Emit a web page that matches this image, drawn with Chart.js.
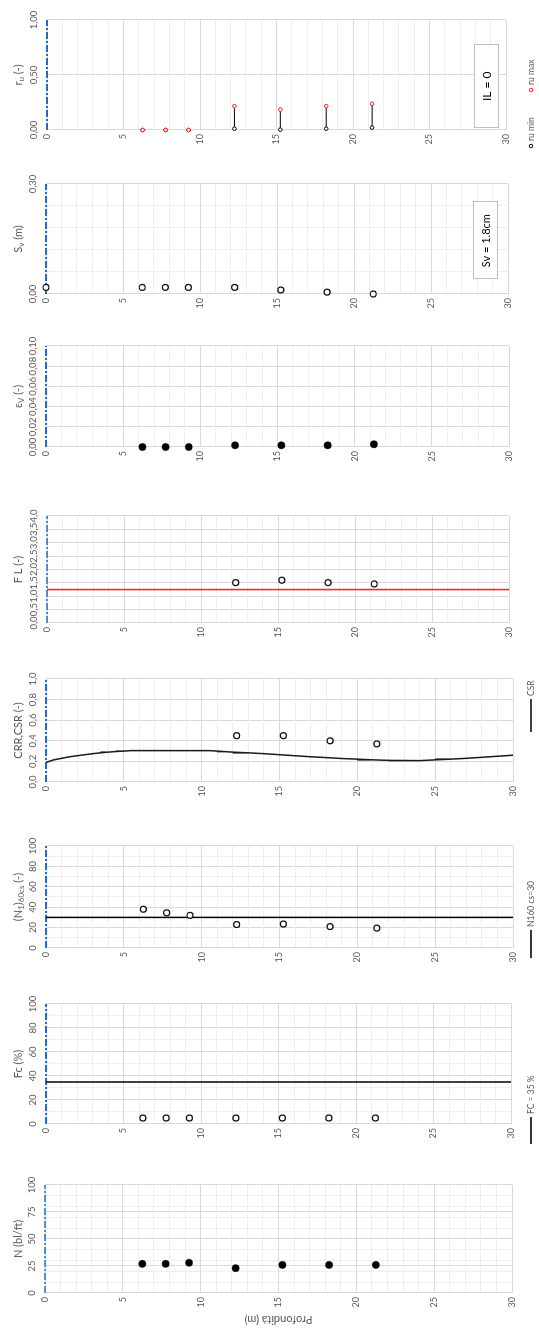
<!DOCTYPE html>
<html><head><meta charset="utf-8">
<script src="https://cdn.jsdelivr.net/npm/chart.js@4"></script>
<style>
html,body{margin:0;padding:0;background:#fff;overflow:hidden;width:539px;height:1328px}
#rot{position:absolute;left:0;top:0;width:1328px;height:539px;transform-origin:0 0;transform:translate(0,1328px) rotate(-90deg);background:#fff}
.p{position:absolute;top:0;height:539px}
.p canvas{display:block}
</style></head><body><div id="rot"></div>
<script>
// ---------------- DATA ----------------
const depths = [6.25, 7.75, 9.25, 12.25, 15.25, 18.25, 21.25];
const ruMin = [0, 0, 0, 0.012, 0.003, 0.012, 0.022];
const ruMax = [0, 0, 0, 0.217, 0.186, 0.217, 0.238];
const svDepths = [0, 6.25, 7.75, 9.25, 12.25, 15.25, 18.25, 21.25];
const svValues = [0.018, 0.018, 0.018, 0.018, 0.018, 0.011, 0.005, 0.0];
const evValues = [0, 0, 0, 0.0017, 0.0017, 0.0017, 0.0027];
const flDepths = [12.25, 15.25, 18.25, 21.25];
const flValues = [1.51, 1.60, 1.51, 1.46];
const flLimit = 1.25;
const crrDepths = [12.25, 15.25, 18.25, 21.25];
const crrValues = [0.45, 0.45, 0.40, 0.37];
const csrDepths = [0,0.5,1,1.5,2,2.5,3,3.5,4,4.5,5,5.5,6,7,8,9,10,10.5,11,11.5,12,13,14,15,16,17,18,19,20,21,22,23,24,25,26,27,28,29,30];
const csrValues = [0.19,0.215,0.23,0.245,0.255,0.265,0.275,0.283,0.29,0.296,0.30,0.305,0.305,0.305,0.305,0.305,0.305,0.303,0.30,0.295,0.29,0.283,0.275,0.265,0.255,0.245,0.237,0.228,0.222,0.215,0.21,0.205,0.21,0.215,0.222,0.23,0.24,0.25,0.26];
const n160Values = [38, 34.5, 32, 23, 23.5, 21, 19.5];
const n160Limit = 30;
const fcValues = [5, 5, 5, 5, 5, 5, 5];
const fcLimit = 35;
const nValues = [27, 27, 28, 23, 26, 26, 26];
const depthRange = [0, 30];
const depthLabels = [0, 5, 10, 15, 20, 25, 30];
const IL_TEXT = 'IL = 0';
const SV_TEXT = 'Sv = 1.8cm';

// ---------------- LAYOUT ----------------
const W = 1328, H = 539;
const FONT = 'Lato, "Open Sans", "Liberation Sans", sans-serif';
const GREY = '#595959';
const BLUE = '#1a6fc9';
const rot = document.getElementById('rot');

const fmt = d => v => v.toFixed(d).replace('.', ',');
const range = (a, b, s) => { const r = []; for (let i = 0; a + i * s <= b + 1e-9; i++) r.push(+(a + i * s).toFixed(6)); return r; };
const has = (arr, v) => arr.some(a => Math.abs(a - v) < 1e-9);
const pts = (xs, ys) => xs.map((d, i) => ({x: ys[i], y: d}));
const hline = v => depthRange.map(d => ({x: v, y: d}));

function drawRich(ctx, parts, cx, cy, size, color) {
  ctx.save(); ctx.fillStyle = color; ctx.textBaseline = 'middle';
  const big = size + 'px ' + FONT, small = Math.round(size * 0.72) + 'px ' + FONT;
  let total = 0;
  parts.forEach(p => { ctx.font = p[1] ? small : big; total += ctx.measureText(p[0]).width; });
  let x = cx - total / 2;
  parts.forEach(p => { ctx.font = p[1] ? small : big; ctx.fillText(p[0], x, cy + (p[1] ? size * 0.3 : 0)); x += ctx.measureText(p[0]).width; });
  ctx.restore();
}

function blueLine(min, max, w) {
  return {data: [{x: min, y: 0}, {x: max, y: 0}], showLine: true, borderColor: BLUE, borderWidth: w,
    borderDash: [7, 2, 2, 2], pointRadius: 0, clip: false, order: 5};
}
const openPts = (data, extra) => Object.assign({data, pointRadius: 3, pointBorderWidth: 1.2, pointBorderColor: '#111', pointBackgroundColor: '#fff', showLine: false, clip: false, order: 1}, extra || {});
const filledPts = (data) => ({data, pointRadius: 3.6, pointBorderWidth: 0.5, pointBorderColor: '#000', pointBackgroundColor: '#000', showLine: false, clip: false, order: 1});
const lineDs = (data, color, w) => ({data, showLine: true, borderColor: color, borderWidth: w, pointRadius: 0, order: 3});

const panels = [
  { img: {T: 20, B: 130, L: 47, R: 506}, min: 0, max: 1, grid: range(0, 1, 0.5), labels: [0, 0.5, 1], f: fmt(2),
    title: [['r'], ['u', 1], [' (-)']],
    datasets: () => [
      openPts(pts(depths, ruMax), {pointRadius: 1.8, pointBorderWidth: 1, pointBorderColor: '#ff1a1a'}),
      openPts(pts(depths, ruMin), {pointRadius: 1.8, pointBorderWidth: 1, pointBorderColor: '#000'}),
      ...depths.map((d, i) => lineDs([{x: ruMin[i], y: d}, {x: ruMax[i], y: d}], '#000', 1)),
      blueLine(0, 1, 2.2)],
    box: {text: IL_TEXT, v0: 0.02, v1: 0.774, d0: 27.9, d1: 29.5, size: 12},
    legend: [{type: 'point', color: '#000', imgY: 146, text: 'ru min'}, {type: 'point', color: '#ff1a1a', imgY: 90, text: 'ru max'}]
  },
  { img: {T: 184, B: 294, L: 46, R: 508}, min: 0, max: 0.3, grid: range(0, 0.3, 0.06), labels: [0, 0.3], f: fmt(2),
    title: [['S'], ['v', 1], [' (m)']],
    datasets: () => [openPts(pts(svDepths, svValues)), blueLine(0, 0.3, 2.2)],
    box: {text: SV_TEXT, v0: 0.136, v1: 0.833, d0: 27.75, d1: 29.33, size: 11}
  },
  { img: {T: 346, B: 447, L: 46, R: 509}, min: 0, max: 0.1, grid: range(0, 0.1, 0.02), labels: range(0, 0.1, 0.02), f: fmt(2),
    title: [['ε'], ['V', 1], [' (-)']],
    datasets: () => [filledPts(pts(depths, evValues)), blueLine(0, 0.1, 2.2)]
  },
  { img: {T: 516, B: 623, L: 47, R: 509}, min: 0, max: 4, grid: range(0, 4, 0.5), labels: range(0, 4, 0.5), f: fmt(1),
    title: [['F L (-)']],
    datasets: () => [openPts(pts(flDepths, flValues)), lineDs(hline(flLimit), '#ee2a2a', 1.6), blueLine(0, 4, 1.3)]
  },
  { img: {T: 679, B: 782, L: 46, R: 513}, min: 0, max: 1, grid: range(0, 1, 0.2), labels: range(0, 1, 0.2), f: fmt(1),
    title: [['CRR,CSR (-)']],
    datasets: () => [openPts(pts(crrDepths, crrValues)), lineDs(pts(csrDepths, csrValues), '#1a1a1a', 1.5), blueLine(0, 1, 2.2)],
    legend: [{type: 'line', imgY0: 732, imgY1: 699, text: 'CSR'}]
  },
  { img: {T: 846, B: 948, L: 46, R: 513}, min: 0, max: 100, grid: range(0, 100, 10), labels: range(0, 100, 20), f: fmt(0),
    title: [['(N'], ['1', 1], [')'], ['60cs', 1], [' (-)']],
    datasets: () => [openPts(pts(depths, n160Values)), lineDs(hline(n160Limit), '#000', 1.5), blueLine(0, 100, 2.2)],
    legend: [{type: 'line', imgY0: 958, imgY1: 930, text: 'N160 cs=30'}]
  },
  { img: {T: 1004, B: 1124, L: 46, R: 511}, min: 0, max: 100, grid: range(0, 100, 10), labels: range(0, 100, 20), f: fmt(0),
    title: [['Fc (%)']],
    datasets: () => [openPts(pts(depths, fcValues)), lineDs(hline(fcLimit), '#000', 1.5), blueLine(0, 100, 2.2)],
    legend: [{type: 'line', imgY0: 1144, imgY1: 1117, text: 'FC = 35 %'}]
  },
  { img: {T: 1185, B: 1293, L: 45, R: 512}, min: 0, max: 100, grid: [...new Set([...range(0, 100, 10), ...range(0, 100, 25)])].sort((a, b) => a - b), labels: range(0, 100, 25), f: fmt(0),
    title: [['N (bl/ft)']],
    datasets: () => [filledPts(pts(depths, nValues)), blueLine(0, 100, 1.3)],
    depthTitle: 'Profondità (m)'
  }
];

panels.forEach(p => {
  const o = {left: W - p.img.B, right: W - p.img.T, top: p.img.L, bottom: p.img.R};
  const divLeft = Math.max(0, o.left - 40);
  const axisW = o.left - divLeft;
  const padRight = 30;
  const divW = (o.right - divLeft) + padRight;
  const div = document.createElement('div'); div.className = 'p';
  div.style.left = divLeft + 'px'; div.style.width = divW + 'px';
  const cv = document.createElement('canvas'); cv.width = divW; cv.height = H;
  cv.style.width = divW + 'px'; cv.style.height = H + 'px';
  div.appendChild(cv); rot.appendChild(div);

  const extras = {
    id: 'extras',
    afterDraw(chart) {
      const ctx = chart.ctx, ca = chart.chartArea, sx = chart.scales.x, sy = chart.scales.y;
      drawRich(ctx, p.title, (ca.left + ca.right) / 2, 18, 11, GREY);
      if (p.box) {
        const b = p.box;
        const x0 = sx.getPixelForValue(p.min + b.v0 * (p.max - p.min)), x1 = sx.getPixelForValue(p.min + b.v1 * (p.max - p.min));
        const y0 = sy.getPixelForValue(b.d0), y1 = sy.getPixelForValue(b.d1);
        ctx.save(); ctx.fillStyle = '#fff'; ctx.strokeStyle = '#bfbfbf'; ctx.lineWidth = 1;
        ctx.fillRect(x0, y0, x1 - x0, y1 - y0); ctx.strokeRect(Math.round(x0) + 0.5, Math.round(y0) + 0.5, Math.round(x1 - x0), Math.round(y1 - y0));
        ctx.fillStyle = '#000'; ctx.font = b.size + 'px ' + FONT; ctx.textAlign = 'center'; ctx.textBaseline = 'middle';
        ctx.fillText(b.text, (x0 + x1) / 2, (y0 + y1) / 2 + 1);
        ctx.restore();
      }
      (p.legend || []).forEach(it => {
        const ly = 531;
        ctx.save(); ctx.font = '8.5px ' + FONT; ctx.fillStyle = GREY; ctx.textBaseline = 'middle'; ctx.textAlign = 'left';
        if (it.type === 'point') {
          const mx = W - it.imgY - divLeft;
          ctx.beginPath(); ctx.arc(mx, ly, 1.8, 0, Math.PI * 2); ctx.fillStyle = '#fff'; ctx.fill();
          ctx.strokeStyle = it.color; ctx.lineWidth = 1; ctx.stroke();
          ctx.fillStyle = GREY; ctx.fillText(it.text, mx + 5, ly);
        } else {
          const a = W - it.imgY0 - divLeft, b2 = W - it.imgY1 - divLeft;
          ctx.strokeStyle = '#000'; ctx.lineWidth = 1.6; ctx.beginPath(); ctx.moveTo(a, ly); ctx.lineTo(b2, ly); ctx.stroke();
          ctx.fillText(it.text, b2 + 3, ly);
        }
        ctx.restore();
      });
      if (p.depthTitle) {
        ctx.save(); ctx.translate(W - 1320 - divLeft, (ca.top + ca.bottom) / 2); ctx.rotate(-Math.PI / 2);
        ctx.font = '11px ' + FONT; ctx.fillStyle = GREY; ctx.textAlign = 'center'; ctx.textBaseline = 'middle';
        ctx.fillText(p.depthTitle, 0, 0); ctx.restore();
      }
    }
  };

  new Chart(cv, {
    type: 'scatter',
    data: {datasets: p.datasets()},
    options: {
      responsive: false, animation: false, events: [],
      layout: {autoPadding: false, padding: {left: 0, top: 0, right: padRight, bottom: H - o.bottom}},
      plugins: {legend: {display: false}, tooltip: {enabled: false}},
      scales: {
        x: {
          type: 'linear', position: 'top', min: p.min, max: p.max,
          afterBuildTicks: s => { s.ticks = p.grid.map(v => ({value: v})); },
          afterFit: s => { s.height = o.top; },
          ticks: {autoSkip: false, maxRotation: 0, minRotation: 0, padding: 7, color: GREY, font: {family: FONT, size: 9.5},
            callback: v => has(p.labels, v) ? p.f(v) : ''},
          grid: {drawTicks: false, color: c => has(p.labels, c.tick.value) ? '#d9d9d9' : '#eeeeee', lineWidth: 1},
          border: {display: true, color: '#d9d9d9'}
        },
        y: {
          type: 'linear', position: 'left', min: depthRange[0], max: depthRange[1], reverse: true,
          afterBuildTicks: s => { s.ticks = range(depthRange[0], depthRange[1], 1).map(v => ({value: v})); },
          afterFit: s => { s.width = axisW; },
          ticks: {autoSkip: false, padding: 4, color: GREY, font: {family: FONT, size: 9},
            callback: v => has(depthLabels, v) ? String(v) : ''},
          grid: {drawTicks: false, color: c => has(depthLabels, c.tick.value) ? '#d9d9d9' : '#eeeeee', lineWidth: 1},
          border: {display: true, color: '#d9d9d9'}
        }
      }
    },
    plugins: [extras]
  });
});
</script>
</body></html>
